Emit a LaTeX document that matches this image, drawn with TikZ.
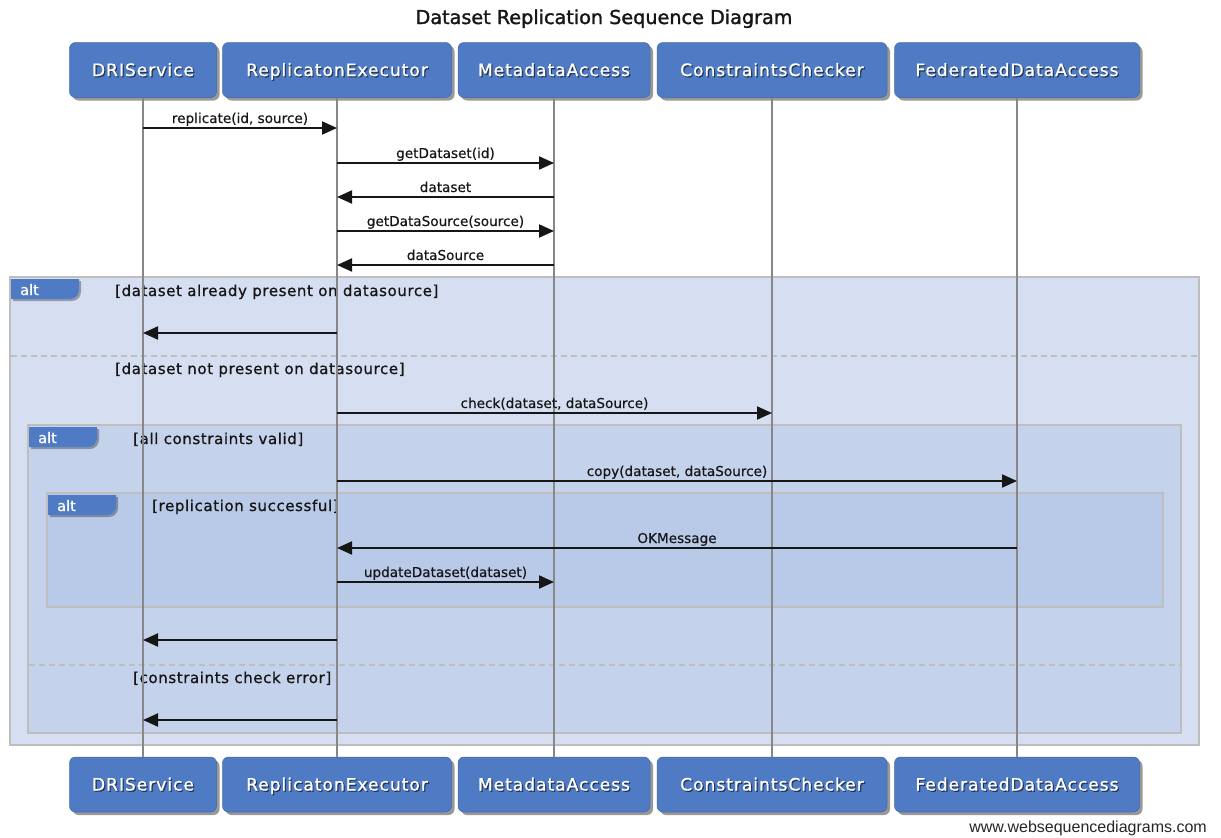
\documentclass[tikz,border=0pt]{standalone}
\usepackage{fontspec}
\setmainfont{DejaVu Sans}
\newfontfamily\pfont[LetterSpace=6,FakeBold=1.2]{DejaVu Sans}
\newfontfamily\lfont[LetterSpace=4,FakeBold=0.9]{DejaVu Sans}
\newfontfamily\mfont[FakeBold=0.4]{DejaVu Sans}
\newfontfamily\tfont[FakeBold=1.5]{DejaVu Sans}
\newfontfamily\afont[FakeBold=0.8]{DejaVu Sans}
\newfontfamily\wfont{Liberation Sans}
\usetikzlibrary{arrows.meta,shadows}
\definecolor{pblue}{RGB}{79,122,196}
\definecolor{outerC}{RGB}{214,223,241}
\definecolor{innerC}{RGB}{196,210,235}
\definecolor{innermostC}{RGB}{184,202,232}
\definecolor{frameC}{RGB}{190,190,190}
\definecolor{lifeC}{RGB}{135,135,135}
\definecolor{inkC}{RGB}{22,22,22}
\tikzset{
  pbox/.style={rounded corners=6pt, fill=pblue, draw=pblue!85!black, line width=0.5pt,
    minimum height=55pt, inner sep=0pt,
    drop shadow={shadow xshift=3pt, shadow yshift=-3pt, opacity=0.4, fill=black}},
  ptxt/.style={text=white, font=\pfont\fontsize{17}{20}\selectfont, inner sep=0pt,
    text height=12.5pt, text depth=3.5pt},
  pshad/.style={text=black, opacity=0.5, font=\pfont\fontsize{17}{20}\selectfont, inner sep=0pt,
    text height=12.5pt, text depth=3.5pt},
  life/.style={draw=lifeC, line width=2pt},
  msg/.style={draw=inkC, line width=2pt, -{Triangle[length=15pt,width=13pt]}},
  lbl/.style={midway, anchor=base, yshift=5pt, inner sep=0pt, text=inkC,
    font=\mfont\fontsize{13.6}{16}\selectfont},
  framebox/.style={draw=frameC, line width=2pt},
  sep/.style={draw=frameC, line width=1.5pt, dash pattern=on 6pt off 4pt},
  flbl/.style={anchor=base west, inner sep=0pt, text=inkC, font=\lfont\fontsize{15}{18}\selectfont},
  tabfill/.style={fill=pblue, drop shadow={shadow xshift=2pt, shadow yshift=-2pt, opacity=0.3, fill=black}},
  alttxt/.style={anchor=base west, inner sep=0pt, text=white, font=\afont\fontsize{14.5}{17}\selectfont},
}
\newcommand\Participant[5]{%
  \node[pbox, minimum width=#4] (#1) at (#2,#3) {};
  \node[pshad] (#1s) at ([xshift=1.2pt,yshift=-2.7pt]#1.center) {#5};
  \node[ptxt] (#1t) at ([yshift=-1.5pt]#1.center) {#5};
}
\newcommand\AltTab[3]{%
  \fill[tabfill] (#1,#2) -- ++(68,0) -- ++(0,11) to[out=-90,in=0] ++(-9,9) -- ++(-59,0) -- cycle;
  \node[alttxt] (#3) at ([shift={(9,16)}]#1,#2) {alt};
}
\begin{document}
\begin{tikzpicture}[x=1pt,y=-1pt]
\fill[white] (0,0) rectangle (1221,838);
\useasboundingbox (0,0) rectangle (1221,838);

% title
\node[anchor=base, inner sep=0pt, text=inkC, font=\tfont\fontsize{19.2}{22}\selectfont] (title) at (604,24) {Dataset Replication Sequence Diagram};

% frames
\draw[framebox, fill=outerC] (10,277) rectangle (1199,745);
\draw[sep] (11,356) -- (1198,356);
\draw[framebox, fill=innerC] (28,425) rectangle (1181,733);
\draw[sep] (29,665) -- (1180,665);
\draw[framebox, fill=innermostC] (47,493) rectangle (1163,607);

\AltTab{11}{279}{alt1}
\AltTab{29}{427}{alt2}
\AltTab{48}{495}{alt3}

\node[flbl] (g1) at (115,296) {[dataset already present on datasource]};
\node[flbl] (g2) at (115,374) {[dataset not present on datasource]};
\node[flbl] (g3) at (133,444) {[all constraints valid]};
\node[flbl] (g4) at (152,511) {[replication successful]};
\node[flbl] (g5) at (133,683) {[constraints check error]};

% participants
\Participant{dri}{143}{70}{147pt}{DRIService}
\Participant{re}{337}{70}{229pt}{ReplicatonExecutor}
\Participant{ma}{554}{70}{192pt}{MetadataAccess}
\Participant{cc}{772}{70}{230pt}{ConstraintsChecker}
\Participant{fda}{1017}{70}{245pt}{FederatedDataAccess}
\Participant{driB}{143}{784.5}{147pt}{DRIService}
\Participant{reB}{337}{784.5}{229pt}{ReplicatonExecutor}
\Participant{maB}{554}{784.5}{192pt}{MetadataAccess}
\Participant{ccB}{772}{784.5}{230pt}{ConstraintsChecker}
\Participant{fdaB}{1017}{784.5}{245pt}{FederatedDataAccess}

% lifelines
\draw[life] (dri.south) -- (driB.north);
\draw[life] (re.south) -- (reB.north);
\draw[life] (ma.south) -- (maB.north);
\draw[life] (cc.south) -- (ccB.north);
\draw[life] (fda.south) -- (fdaB.north);

% messages
\draw[msg] (dri |- 0,128) -- node[lbl]{replicate(id, source)} (re |- 0,128);
\draw[msg] (re |- 0,163) -- node[lbl]{getDataset(id)} (ma |- 0,163);
\draw[msg] (ma |- 0,197) -- node[lbl]{dataset} (re |- 0,197);
\draw[msg] (re |- 0,231) -- node[lbl]{getDataSource(source)} (ma |- 0,231);
\draw[msg] (ma |- 0,265) -- node[lbl]{dataSource} (re |- 0,265);
\draw[msg] (re |- 0,333) -- (dri |- 0,333);
\draw[msg] (re |- 0,413) -- node[lbl]{check(dataset, dataSource)} (cc |- 0,413);
\draw[msg] (re |- 0,481) -- node[lbl]{copy(dataset, dataSource)} (fda |- 0,481);
\draw[msg] (fda |- 0,548) -- node[lbl]{OKMessage} (re |- 0,548);
\draw[msg] (re |- 0,582) -- node[lbl]{updateDataset(dataset)} (ma |- 0,582);
\draw[msg] (re |- 0,640) -- (dri |- 0,640);
\draw[msg] (re |- 0,720) -- (dri |- 0,720);

% footer
\node[anchor=base east, inner sep=0pt, text=black!85, font=\wfont\fontsize{16}{19}\selectfont] (foot) at (1207,832) {www.websequencediagrams.com};
\end{tikzpicture}
\end{document}
